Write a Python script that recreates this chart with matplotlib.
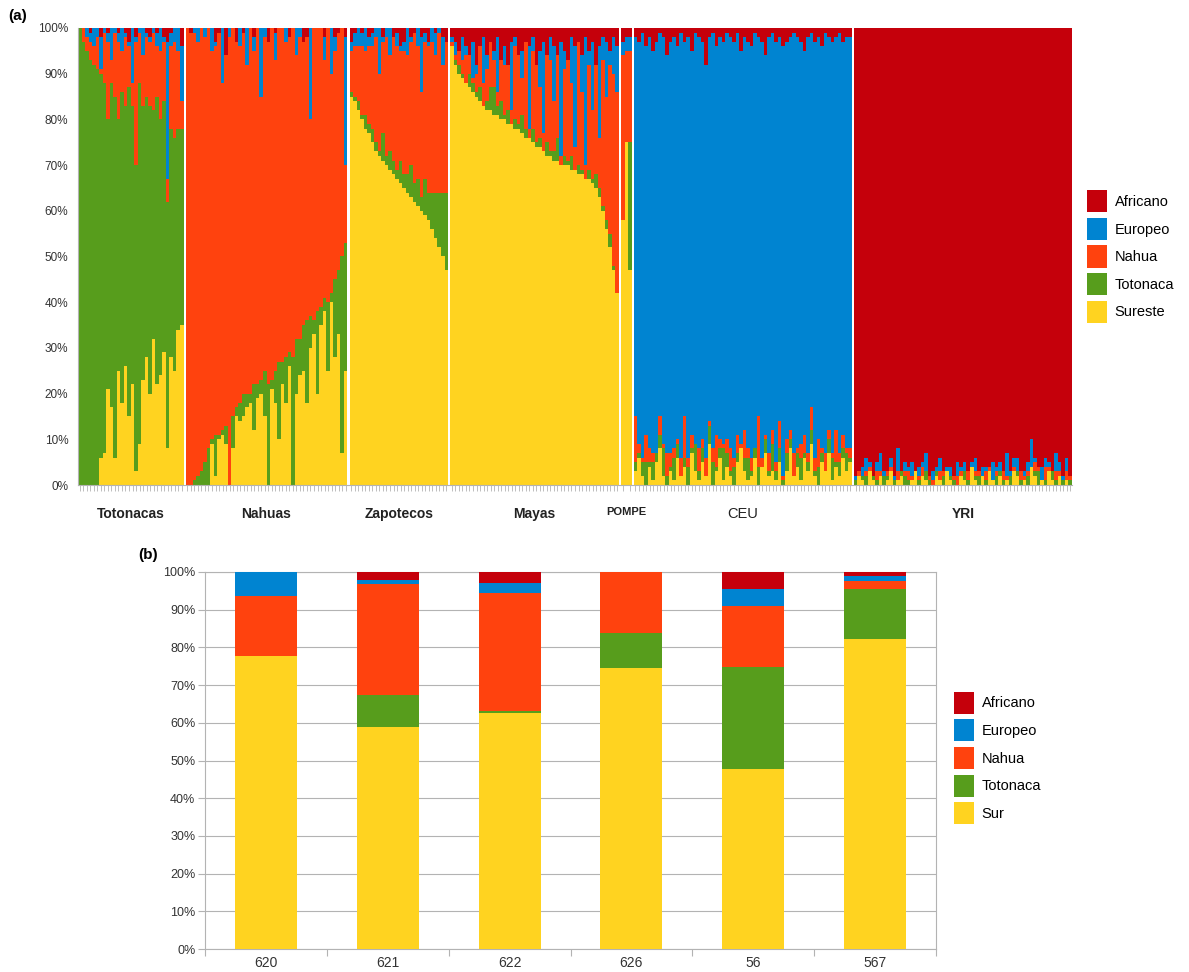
import numpy as np
import matplotlib
matplotlib.use("Agg")
import matplotlib.pyplot as plt
from matplotlib.patches import Patch

plt.rcParams['font.family'] = ['Liberation Sans', 'DejaVu Sans']

# ---------------- Panel (a) data: individual ancestry proportions (%) ----------------
POPULATIONS = ["Totonacas", "Nahuas", "Zapotecos", "Mayas", "POMPE", "CEU", "YRI"]
LEGEND_A = ["Africano", "Europeo", "Nahua", "Totonaca", "Sureste"]

TOTONACAS_SUR = [0,0,0,0,0,0,6,7,21,17,6,25,18,26,15,22,3,9,23,28,20,32,22,24,29,8,28,25,34,35]
TOTONACAS_TOT = [100,97,95,93,92,91,84,81,59,71,79,55,68,57,72,61,67,79,60,57,63,50,63,56,55,54,50,51,44,43]
TOTONACAS_NAH = [0,3,3,4,4,7,1,11,17,5,14,17,9,15,9,5,27,11,11,13,14,17,11,15,13,5,18,21,17,6]
TOTONACAS_EUR = [0,0,2,2,4,2,7,1,2,7,1,2,5,1,1,12,1,1,6,1,1,1,3,5,1,30,3,3,5,12]
TOTONACAS_AFR = [0,0,0,1,0,0,2,0,1,0,0,1,0,1,3,0,2,0,0,1,2,0,1,0,2,3,1,0,0,4]

NAHUAS_SUR = [0,0,0,0,0,0,0,9,2,10,11,9,0,8,15,14,15,17,18,12,19,20,15,0,21,18,10,22,18,26,0,20,24,25,18,30,33,20,35,38,25,40,28,33,7,25]
NAHUAS_TOT = [0,0,1,2,3,5,8,1,9,1,1,4,0,7,2,4,5,3,2,10,3,3,10,22,2,7,17,5,10,3,28,12,8,10,18,7,3,18,4,3,15,2,17,14,43,28]
NAHUAS_NAH = [100,99,98,95,97,93,92,85,85,88,76,81,98,85,80,78,79,72,80,73,78,62,73,75,77,68,73,73,69,69,72,62,66,62,62,43,64,62,61,52,60,48,50,52,50,17]
NAHUAS_EUR = [0,0,1,3,0,2,0,5,1,0,12,0,2,0,0,4,0,8,0,3,0,15,2,0,0,6,0,0,3,0,0,6,2,0,0,20,0,0,0,5,0,10,3,0,0,28]
NAHUAS_AFR = [0,1,0,0,0,0,0,0,3,1,0,6,0,0,3,0,1,0,0,2,0,0,0,3,0,1,0,0,0,2,0,0,0,3,2,0,0,0,0,2,0,0,2,1,0,2]

ZAPOTECOS_SUR = [85,84,82,80,78,77,75,73,72,71,70,69,68,67,66,65,64,63,62,61,60,59,58,56,54,52,50,47]
ZAPOTECOS_TOT = [1,1,2,1,3,2,3,2,1,6,2,4,3,2,5,3,4,7,4,6,3,8,6,8,10,12,14,17]
ZAPOTECOS_NAH = [9,11,12,15,14,17,18,23,17,20,26,21,27,27,24,27,26,27,33,29,23,30,32,33,30,35,28,33]
ZAPOTECOS_EUR = [2,3,4,3,5,2,3,2,10,1,2,6,0,3,1,2,6,1,0,4,12,2,1,3,5,1,6,0]
ZAPOTECOS_AFR = [3,1,0,1,0,2,1,0,0,2,0,0,2,1,4,3,0,2,1,0,2,1,3,0,1,0,2,3]

MAYAS_SUR = [96,92,90,89,88,87,86,85,84,83,82,82,81,81,80,80,79,79,78,78,77,76,76,75,74,74,73,72,72,71,71,70,70,70,69,69,68,68,67,67,66,65,63,60,56,52,47,42]
MAYAS_TOT = [0,1,2,1,0,3,2,1,3,0,2,5,6,2,4,1,3,0,2,1,4,2,0,3,1,2,0,3,1,2,5,0,2,1,3,0,2,1,0,2,1,3,2,1,2,3,1,0]
MAYAS_NAH = [1,1,3,3,6,4,1,4,9,5,7,10,6,3,9,11,10,3,16,15,8,19,2,17,17,11,4,19,20,11,18,2,19,22,16,5,27,17,3,23,15,24,11,32,27,37,42,44]
MAYAS_EUR = [1,3,0,5,2,0,8,2,0,10,3,0,2,12,0,4,0,15,2,0,6,0,18,3,0,8,20,0,5,12,0,25,4,0,10,22,0,8,28,3,15,0,20,5,12,3,8,10]
MAYAS_AFR = [2,3,5,2,4,6,3,8,4,2,6,3,5,2,7,4,8,3,2,6,5,3,4,2,8,5,3,6,2,4,6,3,5,7,2,4,3,6,2,5,3,8,4,2,3,5,2,4]

POMPE_SUR = [58,75,47]
POMPE_TOT = [0,0,28]
POMPE_NAH = [36,20,20]
POMPE_EUR = [3,3,3]
POMPE_AFR = [3,2,2]

CEU_SUR = [3,6,2,0,4,1,5,8,2,0,3,1,6,2,4,0,7,3,1,5,2,9,0,3,6,1,4,2,0,5,8,3,1,2,6,0,4,7,2,3,1,5,0,3,8,2,4,1,6,3,9,2,0,5,3,7,1,4,2,6,3,5]
CEU_TOT = [2,1,3,5,1,4,2,3,6,2,1,5,3,0,2,4,1,6,2,3,0,4,5,1,2,7,3,1,4,2,0,3,5,1,2,4,0,3,1,6,2,3,1,4,2,0,3,5,1,2,3,1,4,2,0,3,5,1,3,2,4,1]
CEU_NAH = [10,2,1,6,3,2,0,4,1,5,3,2,1,4,9,2,3,0,5,2,4,1,3,7,2,1,3,5,2,4,1,6,2,3,0,11,2,1,4,3,2,6,1,3,2,5,1,3,4,2,5,3,6,1,4,2,1,7,2,3,1,2]
CEU_EUR = [83,88,93,85,90,88,90,84,89,87,90,90,86,93,82,92,84,90,90,87,86,84,91,85,88,88,89,90,91,88,86,86,89,90,91,83,91,83,91,87,92,84,94,87,86,92,90,88,84,91,82,91,88,88,92,86,90,86,92,86,90,90]
CEU_AFR = [2,3,1,4,2,5,3,1,2,6,3,2,4,1,3,2,5,1,2,3,8,2,1,4,2,3,1,2,3,1,5,2,3,4,1,2,3,6,2,1,3,2,4,3,2,1,2,3,5,2,1,3,2,4,1,2,3,2,1,3,2,2]

YRI_SUR = [0,2,1,0,3,1,0,2,0,1,3,0,1,2,0,0,1,3,0,2,1,0,0,2,1,0,3,1,0,0,2,1,0,4,1,0,2,0,3,1,0,2,0,1,0,3,2,0,1,0,4,2,0,1,0,3,1,0,2,0,1,0]
YRI_TOT = [1,0,1,2,0,1,1,0,2,1,0,1,0,1,2,1,0,0,1,0,2,1,0,1,0,2,0,1,1,0,0,2,1,0,1,2,0,1,0,0,2,1,1,0,2,0,1,1,0,2,0,1,3,0,1,0,2,1,0,1,0,1]
YRI_NAH = [0,1,0,1,1,0,2,1,0,1,1,0,2,0,1,2,1,0,1,2,0,1,1,0,2,1,0,0,1,2,1,0,2,0,1,1,0,2,1,0,1,0,2,1,0,1,0,2,1,1,0,2,1,0,3,1,0,2,1,0,2,1]
YRI_EUR = [1,0,2,3,1,0,2,4,1,0,2,1,5,0,2,1,3,0,2,1,4,0,2,1,3,0,1,2,0,3,1,2,0,1,3,0,2,1,0,4,1,2,0,5,1,2,3,0,1,2,6,1,0,3,2,1,0,4,2,1,3,0]
YRI_AFR = [98,97,96,94,95,98,95,93,97,97,94,98,92,97,95,96,95,97,96,95,93,98,97,96,94,97,96,96,98,95,96,95,97,95,94,97,96,96,96,95,96,95,97,93,97,94,94,97,97,95,90,94,96,96,94,95,97,93,95,98,94,98]

POP_DATA = {
    "Totonacas": (TOTONACAS_SUR, TOTONACAS_TOT, TOTONACAS_NAH, TOTONACAS_EUR, TOTONACAS_AFR),
    "Nahuas": (NAHUAS_SUR, NAHUAS_TOT, NAHUAS_NAH, NAHUAS_EUR, NAHUAS_AFR),
    "Zapotecos": (ZAPOTECOS_SUR, ZAPOTECOS_TOT, ZAPOTECOS_NAH, ZAPOTECOS_EUR, ZAPOTECOS_AFR),
    "Mayas": (MAYAS_SUR, MAYAS_TOT, MAYAS_NAH, MAYAS_EUR, MAYAS_AFR),
    "POMPE": (POMPE_SUR, POMPE_TOT, POMPE_NAH, POMPE_EUR, POMPE_AFR),
    "CEU": (CEU_SUR, CEU_TOT, CEU_NAH, CEU_EUR, CEU_AFR),
    "YRI": (YRI_SUR, YRI_TOT, YRI_NAH, YRI_EUR, YRI_AFR),
}

# ---------------- Panel (b) data ----------------
SAMPLES = ["620", "621", "622", "626", "56", "567"]
LEGEND_B = ["Africano", "Europeo", "Nahua", "Totonaca", "Sur"]
B_SUR = [77.7, 59.0, 62.7, 74.6, 47.7, 82.3]
B_TOT = [0.0, 8.3, 0.3, 9.3, 27.0, 13.3]
B_NAH = [15.9, 29.6, 31.4, 16.1, 16.2, 2.0]
B_EUR = [6.4, 0.9, 2.8, 0.0, 4.7, 1.3]
B_AFR = [0.0, 2.2, 2.8, 0.0, 4.4, 1.1]

# colours (bottom -> top): Sur/Sureste, Totonaca, Nahua, Europeo, Africano
STACK_COLORS = ["#ffd320", "#579d1c", "#ff420e", "#0084d1", "#c5000b"]
LEGEND_COLORS = ["#c5000b", "#0084d1", "#ff420e", "#579d1c", "#ffd320"]

GREY = "#b3b3b3"
TXT = "#333333"

W, H = 1189, 972
fig = plt.figure(figsize=(W / 100, H / 100), dpi=100)

# ---------------- Panel (a) ----------------
axA = fig.add_axes([78 / W, 1 - 485 / H, 994 / W, 457 / H])
gap = 0.6
x0 = 0.0
centers = []
all_pos = []
for name in POPULATIONS:
    comps = np.array(POP_DATA[name], dtype=float)
    comps = comps / comps.sum(axis=0) * 100.0
    n = comps.shape[1]
    xs = x0 + np.arange(n)
    bottom = np.zeros(n)
    for comp, col in zip(comps, STACK_COLORS):
        axA.bar(xs, comp, width=1.0, bottom=bottom, color=col, linewidth=0,
                antialiased=False)
        bottom += comp
    centers.append(xs.mean())
    all_pos.extend(xs.tolist())
    x0 += n + gap

axA.set_xlim(-0.5, x0 - gap - 0.5)
axA.set_ylim(0, 100)
axA.set_yticks(np.arange(0, 101, 10))
axA.set_yticklabels([f"{v}%" for v in range(0, 101, 10)], fontsize=8.5, color=TXT)
axA.tick_params(axis='y', length=0, pad=7)
axA.set_xticks(centers)
axA.set_xticklabels(POPULATIONS)
axA.set_xticks(all_pos, minor=True)
axA.tick_params(axis='x', which='major', length=0, pad=16)
axA.tick_params(axis='x', which='minor', length=4, color=GREY, width=0.6)
for lab, name in zip(axA.get_xticklabels(), POPULATIONS):
    lab.set_color("#222222")
    if name == "POMPE":
        lab.set_fontsize(8)
        lab.set_fontweight('bold')
    elif name == "CEU":
        lab.set_fontsize(10.5)
    else:
        lab.set_fontsize(10)
        lab.set_fontweight('bold')
for s in ["top", "right"]:
    axA.spines[s].set_visible(False)
for s in ["left", "bottom"]:
    axA.spines[s].set_color(GREY)
    axA.spines[s].set_linewidth(0.8)

LEG_KW = dict(loc='center left', frameon=False, fontsize=10.5, handlelength=1.4,
              handleheight=1.95, labelspacing=0.38, handletextpad=0.5,
              borderpad=0, borderaxespad=0)

fig.legend([Patch(facecolor=c, edgecolor='none') for c in LEGEND_COLORS], LEGEND_A,
           bbox_to_anchor=(1087 / W, 1 - 256.5 / H), **LEG_KW)

# ---------------- Panel (b) ----------------
axB = fig.add_axes([205 / W, 1 - 949 / H, 731 / W, 377 / H])
xb = np.arange(len(SAMPLES))
bottom = np.zeros(len(SAMPLES))
for vals, col in zip([B_SUR, B_TOT, B_NAH, B_EUR, B_AFR], STACK_COLORS):
    v = np.array(vals, dtype=float)
    axB.bar(xb, v, width=0.51, bottom=bottom, color=col, linewidth=0, zorder=3)
    bottom += v
axB.set_xlim(-0.5, len(SAMPLES) - 0.5)
axB.set_ylim(0, 100)
axB.set_yticks(np.arange(0, 101, 10))
axB.set_yticklabels([f"{v}%" for v in range(0, 101, 10)], fontsize=9, color=TXT)
axB.tick_params(axis='y', length=5, color=GREY, width=0.8, pad=2)
axB.set_xticks(xb)
axB.set_xticklabels(SAMPLES, fontsize=10, color=TXT)
axB.set_xticks(np.arange(-0.5, len(SAMPLES), 1.0), minor=True)
axB.tick_params(axis='x', which='major', length=0, pad=5)
axB.tick_params(axis='x', which='minor', length=5, color=GREY, width=0.8)
axB.yaxis.grid(True, color=GREY, linewidth=0.8, zorder=0)
axB.set_axisbelow(True)
for s in axB.spines.values():
    s.set_color(GREY)
    s.set_linewidth(0.8)

fig.legend([Patch(facecolor=c, edgecolor='none') for c in LEGEND_COLORS], LEGEND_B,
           bbox_to_anchor=(954 / W, 1 - 758 / H), **LEG_KW)

fig.text(8 / W, 1 - 16 / H, "(a)", fontsize=11, fontweight='bold', va='center', ha='left')
fig.text(138 / W, 1 - 555 / H, "(b)", fontsize=11, fontweight='bold', va='center', ha='left')

fig.savefig("out.png", dpi=100, facecolor="white")
